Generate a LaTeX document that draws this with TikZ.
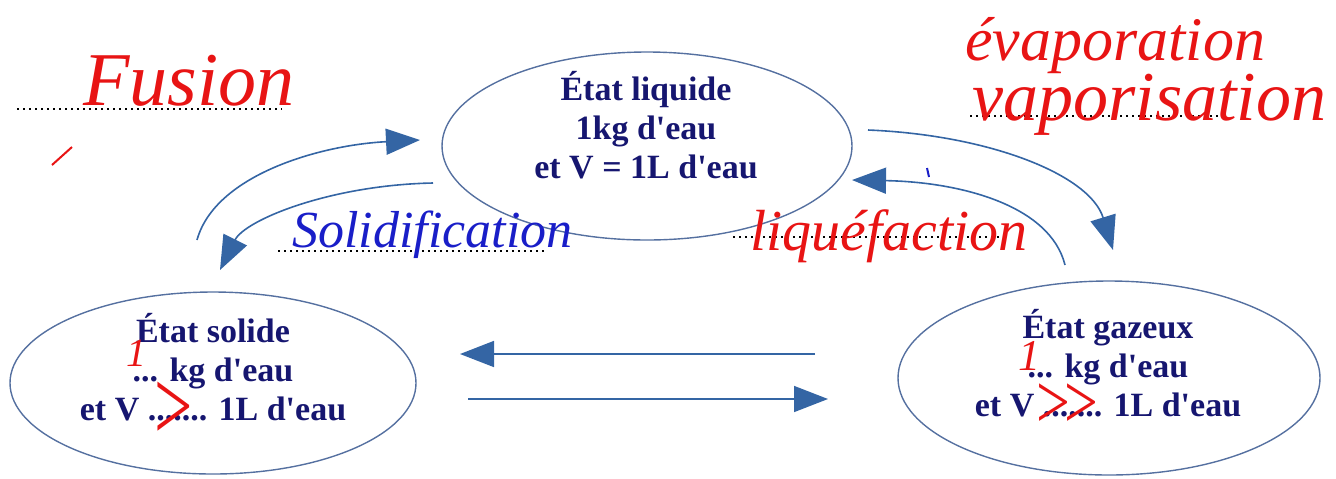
\documentclass[tikz,border=0pt]{standalone}
\usepackage{fontspec}
\setmainfont{Liberation Serif}
\usetikzlibrary{shapes.geometric,arrows.meta}
\definecolor{navy}{RGB}{22,22,112}
\definecolor{arrowblue}{RGB}{52,101,164}
\definecolor{ellblue}{RGB}{85,112,160}
\definecolor{inkred}{RGB}{232,20,20}
\definecolor{inkblue}{RGB}{25,30,200}
\newcommand{\ap}{\textquotesingle}
\tikzset{
  state/.style={ellipse, draw=ellblue, line width=0.7pt, inner sep=0pt},
  statelabel/.style={text=navy, font=\bfseries\fontsize{17}{19.5}\selectfont, align=center, inner sep=0pt},
  flow/.style={draw=arrowblue, line width=0.8pt, -{Triangle[length=17pt,width=13pt]}},
  dotline/.style={draw=black, line width=1pt, dash pattern=on 1pt off 2pt},
  redink/.style={text=inkred, font=\itshape, inner sep=0pt, anchor=base west},
  blueink/.style={text=inkblue, font=\itshape, inner sep=0pt, anchor=base west},
}
\begin{document}
\begin{tikzpicture}[x=0.5pt,y=-0.5pt]
\useasboundingbox (0,0) rectangle (1336,478);
% ellipses
\node[state, minimum width=205pt, minimum height=94pt] (liq) at (647,146) {};
\node[state, minimum width=203pt, minimum height=91pt] (sol) at (213,383) {};
\node[state, minimum width=211pt, minimum height=97pt] (gas) at (1109,378) {};
% labels
\node[statelabel] (liqt) at (646,125) {État liquide\\1kg d\ap eau\\et V = 1L d\ap eau};
\node[statelabel] (solt) at (213,367) {État solide\\... kg d\ap eau\\et V ....... 1L d\ap eau};
\node[statelabel] (gast) at (1108,363) {État gazeux\\... kg d\ap eau\\et V ....... 1L d\ap eau};
% arrow end points
\coordinate (fusA) at (197,240);
\coordinate (fusB) at (420,140);
\coordinate (solA) at (433,183);
\coordinate (solB) at (220,270);
\coordinate (vapA) at (868,130);
\coordinate (vapB) at (1113,250);
\coordinate (liqA) at (1065,265);
\coordinate (liqB) at (852,180);
\coordinate (g2sA) at (815,354);
\coordinate (g2sB) at (460,354);
\coordinate (s2gA) at (468,399);
\coordinate (s2gB) at (828,399);
% curved arrows
\draw[flow] (fusA) .. controls (215,175) and (320,145) .. (fusB);
\draw[flow] (solA) .. controls (330,185) and (245,220) .. (solB);
\draw[flow] (vapA) .. controls (990,135) and (1090,175) .. (vapB);
\draw[flow] (liqA) .. controls (1050,205) and (960,182) .. (liqB);
% straight arrows
\draw[flow] (g2sA) -- (g2sB);
\draw[flow] (s2gA) -- (s2gB);
% dotted answer lines
\coordinate (d1a) at (17,109); \coordinate (d1b) at (282,109);
\coordinate (d2a) at (970,116); \coordinate (d2b) at (1225,116);
\coordinate (d3a) at (278,251); \coordinate (d3b) at (547,251);
\coordinate (d4a) at (733,237); \coordinate (d4b) at (1000,237);
\draw[dotline] (d1a) -- (d1b);
\draw[dotline] (d2a) -- (d2b);
\draw[dotline] (d3a) -- (d3b);
\draw[dotline] (d4a) -- (d4b);
% handwritten answers
\node[redink, font=\itshape\fontsize{38}{40}\selectfont] (wfus) at (83,105) {Fusion};
\node[redink, font=\itshape\fontsize{31}{33}\selectfont] (wevap) at (965,60) {évaporation};
\node[redink, font=\itshape\fontsize{35}{37}\selectfont] (wvap) at (972,120) {vaporisation};
\node[blueink, font=\itshape\fontsize{26}{28}\selectfont] (wsol) at (292,247) {Solidification};
\node[redink, font=\itshape\fontsize{29}{31}\selectfont] (wliq) at (750,250) {liquéfaction};
% handwritten marks in the ellipses
\node[redink, font=\itshape\fontsize{20}{22}\selectfont] (one1) at (126,366) {1};
\node[redink, font=\fontsize{34}{36}\selectfont, yscale=1.5] (gt1) at (154,440) {>};
\node[redink, font=\itshape\fontsize{22}{24}\selectfont] (one2) at (1018,370) {1};
\node[redink, font=\fontsize{30}{32}\selectfont, yscale=1.3] (gt2) at (1036,428) {>\kern-3pt>};
% stray pen strokes
\draw[inkred, line width=1pt] (52,165) -- (72,147);
\draw[inkblue, line width=1pt] (927,168) -- (929,177);
\end{tikzpicture}
\end{document}
